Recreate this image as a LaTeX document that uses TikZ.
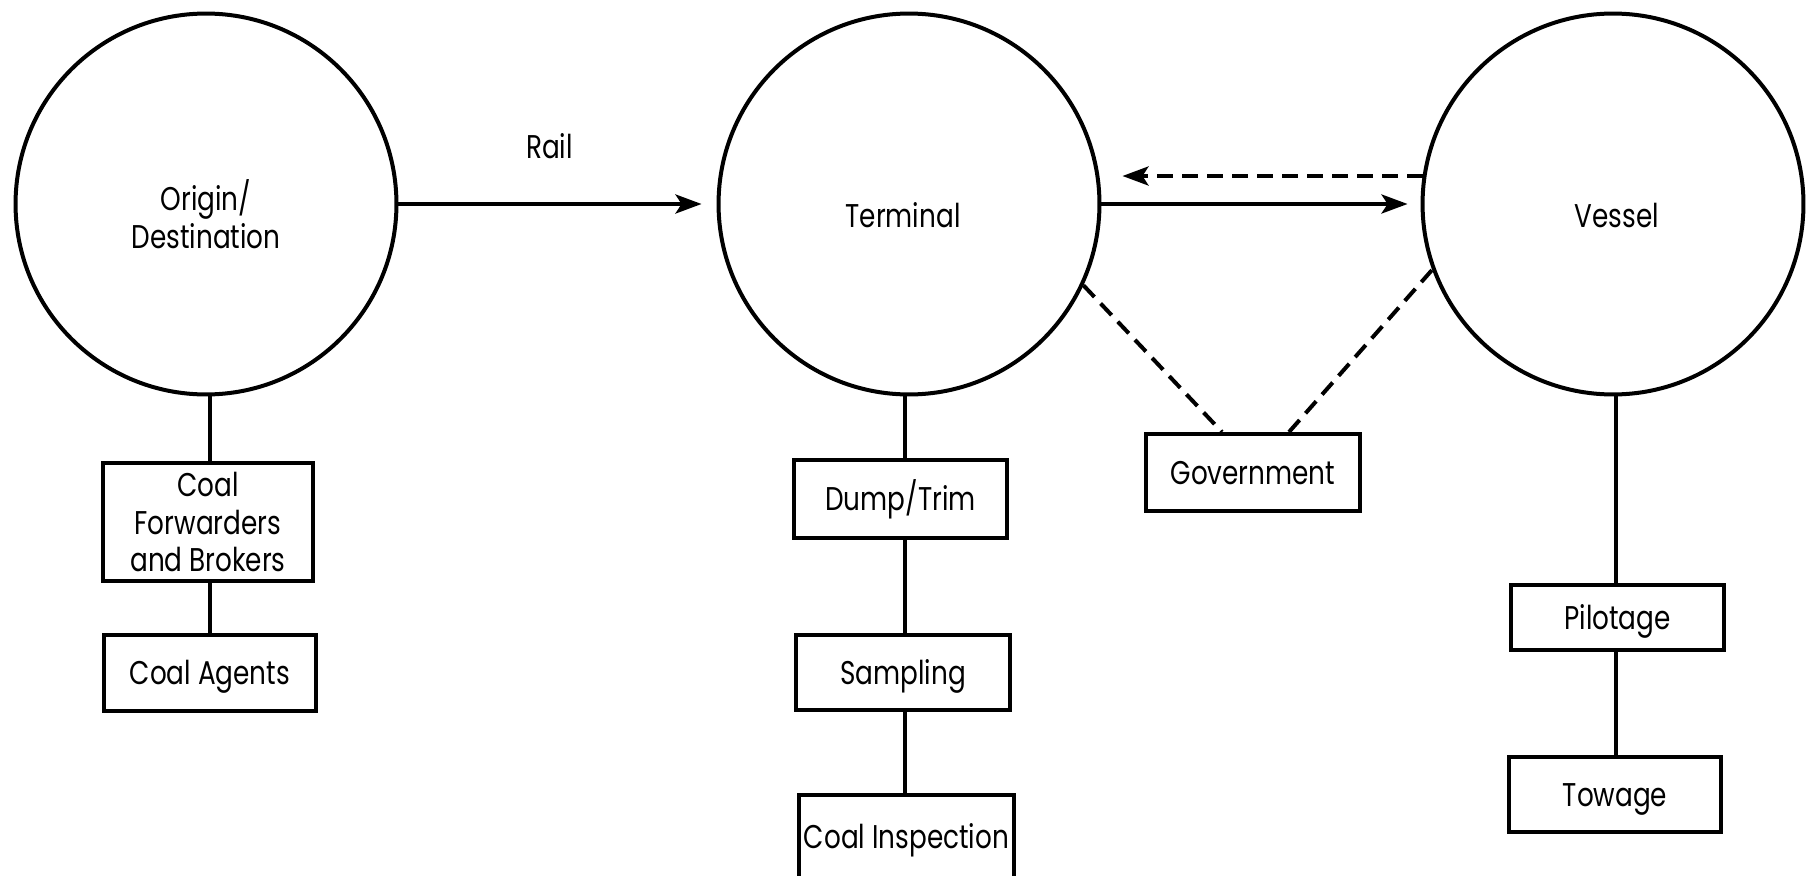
\documentclass[tikz,border=0pt]{standalone}
\usepackage{fontspec}
\setmainfont[FakeStretch=0.8]{Poppins}
\usetikzlibrary{arrows.meta}
\begin{document}
\begin{tikzpicture}[x=0.02cm,y=-0.02cm,
  lw/.style={line width=0.08cm},
  bigcirc/.style={circle,draw,lw,minimum size=7.62cm,inner sep=0pt},
  txt/.style={font=\fontsize{18.7}{21.6}\selectfont,inner sep=0pt},
  capc/.style={text height=0.46cm,text depth=0pt},
  boxbase/.style={draw,lw,rectangle,inner sep=0pt,align=center,txt},
  onebox/.style={boxbase,capc},
  conn/.style={lw},
  dconn/.style={lw,dash pattern=on 0.32cm off 0.18cm},
  arr/.style={-{Stealth[length=0.52cm,width=0.38cm,inset=0.12cm]}}
]
\useasboundingbox (0,0) rectangle (1817,875);
% circles
\node[bigcirc] (orig) at (206,204) {};
\node[bigcirc] (term) at (909,204) {};
\node[bigcirc] (vess) at (1613,204) {};
\node[txt,align=center] (origt) at (206,214) {Origin/\\Destination};
\node[txt,capc] (termt) at (903,215.5) {Terminal};
\node[txt,capc] (vesst) at (1617,215.5) {Vessel};
% boxes
\node[boxbase,minimum width=4.22cm,minimum height=2.36cm] (fwd) at (208,522) {Coal\\Forwarders\\and Brokers};
\node[onebox,minimum width=4.24cm,minimum height=1.52cm] (agents) at (210,673) {Coal Agents};
\node[onebox,minimum width=4.26cm,minimum height=1.56cm] (dump) at (900.5,499) {Dump/Trim};
\node[onebox,minimum width=4.28cm,minimum height=1.5cm] (samp) at (903,672.5) {Sampling};
\node[onebox,minimum width=4.3cm,minimum height=1.7cm] (insp) at (906.5,837) {Coal Inspection};
\node[onebox,minimum width=4.28cm,minimum height=1.54cm] (gov) at (1253,472.5) {Government};
\node[onebox,minimum width=4.26cm,minimum height=1.3cm] (pilot) at (1617.5,617.5) {Pilotage};
\node[onebox,minimum width=4.24cm,minimum height=1.5cm] (tow) at (1615,794.5) {Towage};
% column coordinates
\coordinate (ocol) at (210,0);
\coordinate (tcol) at (905,0);
\coordinate (vcol) at (1616,0);
\coordinate (drow) at (0,176);
% vertical connectors
\draw[conn] (ocol |- orig.south) -- (ocol |- fwd.north);
\draw[conn] (ocol |- fwd.south) -- (ocol |- agents.north);
\draw[conn] (tcol |- term.south) -- (tcol |- dump.north);
\draw[conn] (tcol |- dump.south) -- (tcol |- samp.north);
\draw[conn] (tcol |- samp.south) -- (tcol |- insp.north);
\draw[conn] (vcol |- vess.south) -- (vcol |- pilot.north);
\draw[conn] (vcol |- pilot.south) -- (vcol |- tow.north);
% arrows
\draw[conn,arr,shorten >=0.3cm] (orig.east) -- node[txt,capc,midway,xshift=-0.16cm,yshift=1.14cm] (rail) {Rail} (term.west);
\draw[conn,arr,shorten >=0.26cm] (term.east) -- (vess.west);
\draw[dconn,arr,shorten >=0.42cm] (vess.west |- drow) ++(0.04cm,0) -- (term.east |- drow);
% dashed to government
\draw[dconn] (term.-25.5) -- ([xshift=-0.62cm]gov.north);
\draw[dconn] ([xshift=0.72cm]gov.north) -- (vess.200.3);
\end{tikzpicture}
\end{document}
